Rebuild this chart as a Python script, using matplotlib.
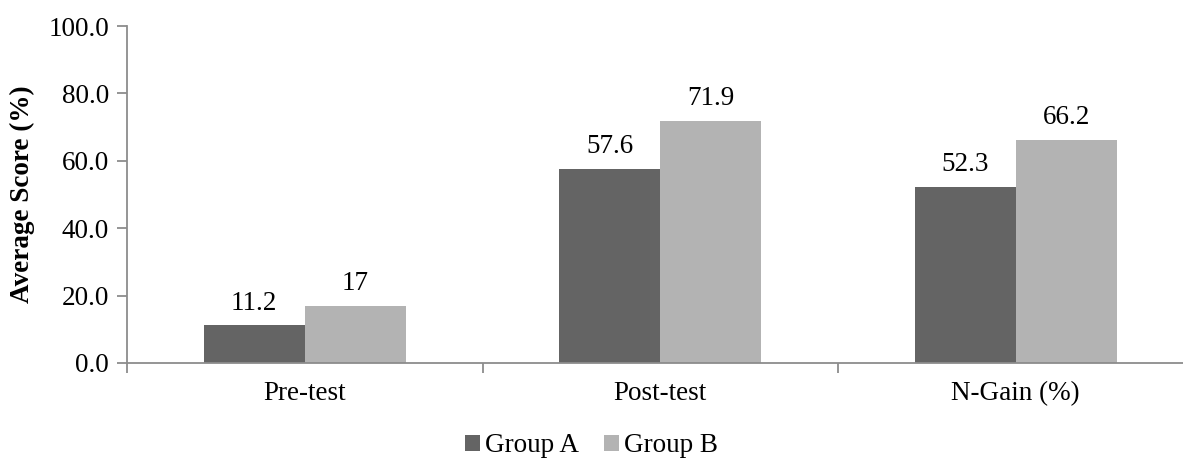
import numpy as np
import matplotlib
matplotlib.use("Agg")
import matplotlib.pyplot as plt

categories = ["Pre-test", "Post-test", "N-Gain (%)"]
group_a = [11.2, 57.6, 52.3]
group_b = [17.0, 71.9, 66.2]
labels_a = ["11.2", "57.6", "52.3"]
labels_b = ["17", "71.9", "66.2"]
yticks = [0, 20, 40, 60, 80, 100]

plt.rcParams['font.family'] = ['Liberation Serif', 'DejaVu Serif']
FS = 19.5

fig = plt.figure(figsize=(11.83, 4.62), dpi=100)
ax = fig.add_axes([127 / 1183, 99 / 462, (1183 - 127) / 1183, 337 / 462])

x = np.arange(len(categories))
w = 0.284
bars_a = ax.bar(x - w / 2, group_a, w, color='#646464', label='Group A')
bars_b = ax.bar(x + w / 2, group_b, w, color='#b3b3b3', label='Group B')

for bars, labs in [(bars_a, labels_a), (bars_b, labels_b)]:
    for b, lab in zip(bars, labs):
        ax.annotate(lab, (b.get_x() + b.get_width() / 2, b.get_height()),
                    xytext=(0, 7), textcoords='offset points',
                    ha='center', va='bottom', fontsize=FS)

ax.set_xlim(-0.5, 2.5 - 10.5 / 355.5)
ax.set_ylim(0, 100)
ax.set_yticks(yticks)
ax.set_yticklabels([f"{v:.1f}" for v in yticks], fontsize=FS)
ax.set_xticks(x)
ax.set_xticklabels(categories, fontsize=FS)
ax.set_xticks([-0.5, 0.5, 1.5], minor=True)
ax.tick_params(axis='x', which='major', length=0, pad=13)
ax.tick_params(axis='x', which='minor', length=7, width=1.3, color='#8c8c8c', direction='out')
ax.tick_params(axis='y', length=7, width=1.3, color='#8c8c8c', pad=6)
ax.set_ylabel('Average Score (%)', fontsize=FS, fontweight='bold')
ax.yaxis.set_label_coords((35 - 127) / 1056, 0.5)

for side in ['top', 'right']:
    ax.spines[side].set_visible(False)
for side in ['left', 'bottom']:
    ax.spines[side].set_color('#8c8c8c')
    ax.spines[side].set_linewidth(1.3)

fig.legend(handles=[bars_a, bars_b], loc='lower center', bbox_to_anchor=(0.5, -0.045),
           ncol=2, frameon=False, fontsize=FS, handlelength=0.55, handleheight=0.55,
           handletextpad=0.2, columnspacing=0.9)

plt.savefig('out.png', dpi=100)
